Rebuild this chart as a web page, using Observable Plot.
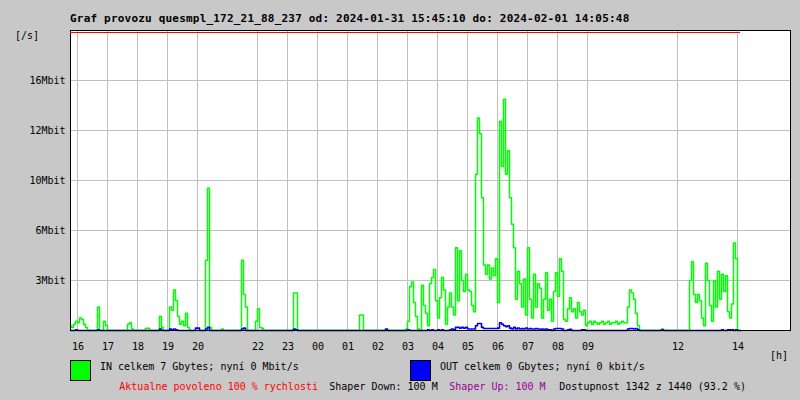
<!DOCTYPE html>
<html><head><meta charset="utf-8">
<script src="https://cdn.jsdelivr.net/npm/d3@7"></script>
<script src="https://cdn.jsdelivr.net/npm/@observablehq/plot@0.6"></script>
<style>
html,body{margin:0;padding:0;background:#c8c8c8;}
#chart{position:relative;width:800px;height:400px;background:#c8c8c8;overflow:hidden;font-family:"DejaVu Sans Mono",monospace;}
#chart svg{position:absolute;left:0;top:0;}
.t{position:absolute;white-space:pre;font-size:10px;line-height:10px;color:#000;}
.box{position:absolute;width:21px;height:21px;box-sizing:border-box;border:1px solid #000;}
</style></head><body><div id="chart"></div>
<script>
// time axis in hours since 2024-01-31 00:00
const startHour = 15 + 45/60 + 10/3600;   // 15:45:10
const endHour = 24 + 14 + 5/60 + 48/3600; // 14:05:48 next day
const stepHours = 4/60;                   // one value every 4 minutes

// IN traffic (Mbit/s)
const inMbit = [
  0.3,0.2,0.4,0.6,0.5,0.8,0.7,0.4,0.2,0,0,0,0,0,1.5,0,0,0.6,0.3,0,
  0,0,0,0,0,0,0,0,0,0.4,0.5,0.1,0,0,0,0,0,0,0.15,0.15,
  0,0,0,0,0,0.9,0.2,0,0,0,1.5,1.3,2.6,1.9,0.9,0.4,0.6,0.3,1.1,0.2,
  0,0,0,0,0,0,0,0,4.5,9.1,0.2,0,0,0,0,0,0.1,0,0,0,
  0,0,0,0,0,0,4.5,2.3,1.5,0,0,0,0,0.6,1.4,0.2,0.15,0,0,0,
  0,0,0,0,0,0,0,0,0,0,0,0,2.4,2.4,0,0,0,0,0,0,
  0,0,0,0,0,0,0,0,0,0,0,0,0,0,0,0,0,0,0,0,
  0,0,0,0,0,1.0,1.0,0,0,0,0,0,0,0,0,0,0,0,0,0,
  0,0,0,0,0,0,0,0,0.1,0.6,2.8,3.1,1.8,0.9,0.1,0,2.9,1.6,1.1,0.3,
  3.0,3.4,3.9,1.9,0.8,2.1,3.4,2.6,0.4,1.5,2.4,1.5,1.0,5.3,1.9,5.1,3.2,2.5,3.6,2.6,
  2.5,1.6,1.2,10.0,13.6,12.6,8.5,4.2,3.6,4.2,3.3,4.0,3.5,4.6,1.8,13.4,10.5,14.8,10.0,11.5,
  8.5,6.8,5.3,2.0,3.8,3.0,1.5,3.3,1.0,5.3,2.0,0.8,3.6,1.5,3.0,2.7,0.8,2.0,3.7,1.3,
  2.0,0.6,2.5,3.7,2.2,4.6,3.8,0.7,0.6,1.4,2.1,1.2,1.4,0.8,1.8,1.2,1.0,1.3,0.3,0.5,
  0.6,0.4,0.6,0.5,0.4,0.5,0.6,0.4,0.5,0.6,0.4,0.5,0.5,0.6,0.4,0.5,0.6,0.5,0.5,1.5,
  2.6,2.4,2.0,1.1,0.3,0,0,0,0,0,0,0,0,0,0,0,0.1,0,0,0,
  0,0,0,0,0,0,0,0,0,0,3.2,4.4,2.3,1.8,2.3,1.9,0.8,0.3,4.3,3.2,
  1.6,0.6,3.2,1.5,3.8,2.0,3.6,2.5,3.5,1.2,0.8,1.7,5.6,4.6,0,0
];
// OUT traffic (Mbit/s)
const outMbit = [
  0,0,0,0.05,0,0,0,0,0,0,0,0,0,0,0.05,0,0,0,0,0,
  0,0,0,0,0,0,0,0,0,0,0,0,0,0,0,0,0,0,0,0,
  0,0,0,0,0,0.1,0,0,0,0,0.1,0.05,0.1,0.05,0,0,0,0,0,0,
  0,0,0,0.15,0.15,0,0,0,0.1,0.2,0,0,0,0,0,0,0,0,0,0,
  0,0,0,0,0,0,0.1,0.15,0,0,0,0,0,0,0,0,0,0,0,0,
  0,0,0,0,0,0,0,0,0,0,0,0,0.1,0.05,0,0,0,0,0,0,
  0,0,0,0,0,0,0,0,0,0,0,0,0,0,0,0,0,0,0,0,
  0,0,0,0,0,0,0,0,0,0,0,0,0,0,0,0,0,0,0.1,0,
  0,0,0,0,0,0,0,0,0,0.05,0,0,0,0,0,0,0,0,0,0.05,
  0,0.05,0,0,0.05,0,0.05,0,0,0,0.05,0.1,0.05,0.2,0.2,0.15,0.2,0.15,0.2,0.1,
  0.1,0.1,0.1,0.3,0.45,0.45,0.2,0.13,0.13,0.13,0.13,0.13,0.13,0.13,0.15,0.5,0.4,0.3,0.25,0.3,
  0.15,0.1,0.2,0.1,0.15,0.1,0.12,0.1,0.15,0.1,0.12,0.1,0.1,0.12,0.1,0.08,0.1,0.08,0.1,0.05,
  0.05,0,0.1,0.13,0.13,0.13,0.1,0,0,0.05,0.08,0,0,0,0,0,0.05,0.05,0,0,
  0,0,0,0,0,0,0,0,0,0,0,0,0,0,0,0,0,0,0,0.1,
  0.13,0.13,0.1,0.13,0.05,0,0,0,0,0,0,0,0,0,0,0,0.05,0,0,0,
  0,0,0,0,0,0,0,0,0,0,0,0,0,0,0,0,0,0,0,0,
  0,0,0,0,0,0,0.05,0,0,0.05,0.05,0.05,0,0.05,0,0
];

const yMax = 19.2;
const yTicks = [3.2, 6.4, 9.6, 12.8, 16];
const yLabels = ["3Mbit", "6Mbit", "10Mbit", "12Mbit", "16Mbit"];
const xTicks = [16, 17, 18, 19, 20, 22, 23, 24, 25, 26, 27, 28, 29, 30, 31, 32, 33, 36, 38];
const xLabels = ["16","17","18","19","20","22","23","00","01","02","03","04","05","06","07","08","09","12","14"];

const rows = inMbit.map((v, i) => ({t: startHour + i * stepHours, inV: v, outV: outMbit[i]}));
const xLabelMap = new Map(xTicks.map((d, i) => [d, xLabels[i]]));
const yLabelMap = new Map(yTicks.map((d, i) => [d, yLabels[i]]));

const plot = Plot.plot({
  width: 800, height: 400,
  marginLeft: 70, marginRight: 10, marginTop: 30, marginBottom: 70,
  style: {background: "transparent", fontFamily: '"DejaVu Sans Mono", monospace', fontSize: "10px", color: "#000"},
  x: {domain: [startHour, startHour + 24], ticks: xTicks, tickFormat: d => xLabelMap.get(d), tickSize: 0, tickPadding: 12, label: null},
  y: {domain: [0, yMax], ticks: yTicks, tickFormat: d => yLabelMap.get(d), tickSize: 0, tickPadding: 5, label: null},
  marks: [
    Plot.frame({fill: "white", stroke: null}),
    Plot.ruleX(xTicks, {stroke: "#c0c0c0", shapeRendering: "crispEdges"}),
    Plot.ruleY(yTicks, {stroke: "#c0c0c0", shapeRendering: "crispEdges"}),
    Plot.lineY(rows, {x: "t", y: "inV", stroke: "#00ff00", curve: "step", strokeWidth: 1.5}),
    Plot.lineY(rows, {x: "t", y: "outV", stroke: "#0000ff", curve: "step", strokeWidth: 1.6}),
    Plot.frame({stroke: "#000", strokeWidth: 1.5, shapeRendering: "crispEdges"}),
    Plot.ruleY([yMax], {x1: startHour, x2: endHour, stroke: "#ff0000", strokeWidth: 1, dy: 1.5, shapeRendering: "crispEdges"})
  ]
});

const chart = document.getElementById("chart");
chart.appendChild(plot);

function addText(str, x, baseline, opts = {}) {
  const el = document.createElement("div");
  el.className = "t";
  const size = opts.size || 10;
  el.style.fontSize = size + "px";
  el.style.lineHeight = size + "px";
  el.style.left = x + "px";
  el.style.top = (baseline - 0.846 * size) + "px";
  if (opts.bold) el.style.fontWeight = "bold";
  if (opts.color) el.style.color = opts.color;
  if (opts.ls) el.style.letterSpacing = opts.ls;
  el.textContent = str;
  chart.appendChild(el);
}
function addBox(x, y, color) {
  const el = document.createElement("div");
  el.className = "box";
  el.style.left = x + "px";
  el.style.top = y + "px";
  el.style.background = color;
  chart.appendChild(el);
}

addText("Graf provozu quesmpl_172_21_88_237 od: 2024-01-31 15:45:10 do: 2024-02-01 14:05:48", 70, 22, {size: 11, bold: true, ls: "0.2px"});
addText("[/s]", 15, 39.5);
addText("[h]", 770, 359.5);
addBox(70, 360, "#00ff00");
addText("IN celkem 7 Gbytes; nyní 0 Mbit/s", 100, 370.7);
addBox(410, 360, "#0000ff");
addText("OUT celkem 0 Gbytes; nyní 0 kbit/s", 440, 370.7);
addText("Aktualne povoleno 100 % rychlosti", 119.3, 390.5, {color: "#ff0000"});
addText("Shaper Down: 100 M", 329.3, 390.5);
addText("Shaper Up: 100 M", 449.3, 390.5, {color: "#990099"});
addText("Dostupnost 1342 z 1440 (93.2 %)", 559.3, 390.5);
</script>
</body></html>
